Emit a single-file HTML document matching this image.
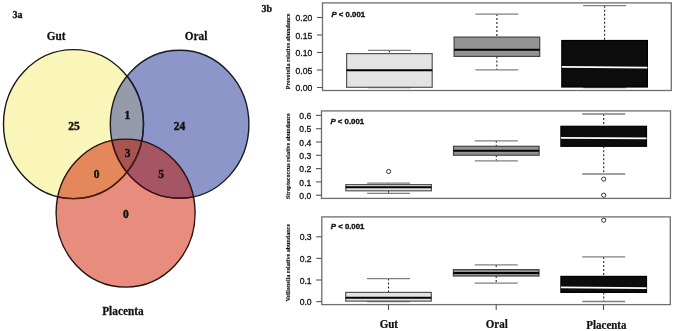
<!DOCTYPE html>
<html><head><meta charset="utf-8"><style>
html,body{margin:0;padding:0;background:#fff;width:675px;height:331px;overflow:hidden}
svg{display:block;will-change:transform}
.tk{font-family:"Liberation Sans",sans-serif;font-size:8.6px;fill:#111;stroke:#111;stroke-width:0.3px}
.pv{font-family:"Liberation Sans",sans-serif;font-size:8px;font-weight:bold;fill:#111;stroke:#111;stroke-width:0.35px}
.yl{font-family:"Liberation Serif",serif;font-size:6.3px;font-weight:bold;fill:#111;stroke:#111;stroke-width:0.15px}
.xl{font-family:"Liberation Serif",serif;font-size:13px;font-weight:bold;fill:#111;stroke:#111;stroke-width:0.25px}
.vl{font-family:"Liberation Serif",serif;font-size:12.6px;font-weight:bold;fill:#111;stroke:#111;stroke-width:0.25px}
.vn{font-family:"Liberation Serif",serif;font-size:11.5px;font-weight:bold;fill:#111;stroke:#111;stroke-width:0.4px}
.pl{font-family:"Liberation Serif",serif;font-size:10px;font-weight:bold;fill:#111;stroke:#111;stroke-width:0.3px}
</style></head><body>
<svg width="675" height="331" viewBox="0 0 675 331">

<defs>
 <clipPath id="cG"><ellipse cx="73.5" cy="124.1" rx="70.0" ry="74.5" /></clipPath>
 <clipPath id="cO"><ellipse cx="179.6" cy="124.3" rx="69.3" ry="74.0" /></clipPath>
 <clipPath id="cP"><ellipse cx="125.6" cy="213.1" rx="69.5" ry="74.0" /></clipPath>
</defs>
<ellipse cx="73.5" cy="124.1" rx="70.0" ry="74.5" fill="#faf5b9"/>
<ellipse cx="179.6" cy="124.3" rx="69.3" ry="74.0" fill="#8c96c8"/>
<ellipse cx="125.6" cy="213.1" rx="69.5" ry="74.0" fill="#e88c7d"/>
<g clip-path="url(#cG)"><ellipse cx="179.6" cy="124.3" rx="69.3" ry="74.0" fill="#969bab"/><ellipse cx="125.6" cy="213.1" rx="69.5" ry="74.0" fill="#e4875a"/></g>
<g clip-path="url(#cO)"><ellipse cx="125.6" cy="213.1" rx="69.5" ry="74.0" fill="#a55564"/></g>
<g clip-path="url(#cG)"><g clip-path="url(#cO)"><ellipse cx="125.6" cy="213.1" rx="69.5" ry="74.0" fill="#a85450"/></g></g>
<ellipse cx="73.5" cy="124.1" rx="70.0" ry="74.5" fill="none" stroke="#1a1a1a" stroke-width="1.4"/>
<g clip-path="url(#cO)"><ellipse cx="73.5" cy="124.1" rx="70.0" ry="74.5" fill="none" stroke="#1c1c3c" stroke-width="1.4"/></g>
<g clip-path="url(#cP)"><ellipse cx="73.5" cy="124.1" rx="70.0" ry="74.5" fill="none" stroke="#551a10" stroke-width="1.4"/></g>
<ellipse cx="179.6" cy="124.3" rx="69.3" ry="74.0" fill="none" stroke="#1a1a22" stroke-width="1.4"/>
<g clip-path="url(#cP)"><ellipse cx="179.6" cy="124.3" rx="69.3" ry="74.0" fill="none" stroke="#4a1018" stroke-width="1.4"/></g>
<ellipse cx="125.6" cy="213.1" rx="69.5" ry="74.0" fill="none" stroke="#241010" stroke-width="1.4"/>
<text transform="translate(56.1,40.3) scale(0.896,1)" class="vl" text-anchor="middle">Gut</text>
<text transform="translate(196,39.9) scale(0.896,1)" class="vl" text-anchor="middle">Oral</text>
<text transform="translate(122.9,314.8) scale(0.896,1)" class="vl" text-anchor="middle">Placenta</text>
<text transform="translate(73.9,129.7) scale(1.0,1)" class="vn" text-anchor="middle">25</text>
<text transform="translate(179.5,130.0) scale(1.0,1)" class="vn" text-anchor="middle">24</text>
<text transform="translate(127.4,118.7) scale(1.0,1)" class="vn" text-anchor="middle">1</text>
<text transform="translate(127.6,156.7) scale(1.0,1)" class="vn" text-anchor="middle">3</text>
<text transform="translate(96.5,177.7) scale(1.0,1)" class="vn" text-anchor="middle">0</text>
<text transform="translate(161,178.0) scale(1.0,1)" class="vn" text-anchor="middle">5</text>
<text transform="translate(125.9,217.7) scale(1.0,1)" class="vn" text-anchor="middle">0</text>
<text transform="translate(12.6,17.6) scale(1.0,1)" class="pl" text-anchor="start">3a</text>
<text transform="translate(261.6,11.9) scale(1.0,1)" class="pl" text-anchor="start">3b</text>
<line x1="389.4" y1="50.3" x2="389.4" y2="53.6" stroke="#222" stroke-width="1.1" stroke-dasharray="2 2"/>
<line x1="389.4" y1="87.3" x2="389.4" y2="87.5" stroke="#222" stroke-width="1.1" stroke-dasharray="2 2"/>
<line x1="367.9" y1="50.3" x2="410.9" y2="50.3" stroke="#808080" stroke-width="1.3"/>
<line x1="367.9" y1="87.5" x2="410.9" y2="87.5" stroke="#808080" stroke-width="1.3"/>
<rect x="346.59999999999997" y="53.6" width="85.6" height="33.70" fill="#e3e3e3" stroke="#555" stroke-width="1.2"/>
<line x1="346.59999999999997" y1="70.2" x2="432.2" y2="70.2" stroke="#000" stroke-width="2"/>
<line x1="496.9" y1="14.1" x2="496.9" y2="37.1" stroke="#222" stroke-width="1.1" stroke-dasharray="2 2"/>
<line x1="496.9" y1="56.4" x2="496.9" y2="69.9" stroke="#222" stroke-width="1.1" stroke-dasharray="2 2"/>
<line x1="475.4" y1="14.1" x2="518.4" y2="14.1" stroke="#808080" stroke-width="1.3"/>
<line x1="475.4" y1="69.9" x2="518.4" y2="69.9" stroke="#808080" stroke-width="1.3"/>
<rect x="454.09999999999997" y="37.1" width="85.6" height="19.30" fill="#949494" stroke="#444" stroke-width="1.2"/>
<line x1="454.09999999999997" y1="49.8" x2="539.6999999999999" y2="49.8" stroke="#000" stroke-width="2"/>
<line x1="604.6" y1="5.7" x2="604.6" y2="40.5" stroke="#222" stroke-width="1.1" stroke-dasharray="2 2"/>
<line x1="604.6" y1="87.0" x2="604.6" y2="87.6" stroke="#222" stroke-width="1.1" stroke-dasharray="2 2"/>
<line x1="583.1" y1="5.7" x2="626.1" y2="5.7" stroke="#808080" stroke-width="1.3"/>
<line x1="583.1" y1="87.6" x2="626.1" y2="87.6" stroke="#808080" stroke-width="1.3"/>
<rect x="561.8000000000001" y="40.5" width="85.6" height="46.50" fill="#0c0c0c" stroke="#000" stroke-width="1.2"/>
<line x1="561.8000000000001" y1="66.9" x2="647.4" y2="67.7" stroke="#fff" stroke-width="1.7"/>
<rect x="322.5" y="2.9" width="348.80" height="87.60" fill="none" stroke="#6e6e6e" stroke-width="1.3"/>
<line x1="317.0" y1="87.5" x2="322.5" y2="87.5" stroke="#555" stroke-width="1.1"/>
<text transform="translate(312.3,91.1) scale(1.0,1)" class="tk" text-anchor="end">0.00</text>
<line x1="317.0" y1="70" x2="322.5" y2="70" stroke="#555" stroke-width="1.1"/>
<text transform="translate(312.3,73.6) scale(1.0,1)" class="tk" text-anchor="end">0.05</text>
<line x1="317.0" y1="52.5" x2="322.5" y2="52.5" stroke="#555" stroke-width="1.1"/>
<text transform="translate(312.3,56.1) scale(1.0,1)" class="tk" text-anchor="end">0.10</text>
<line x1="317.0" y1="35" x2="322.5" y2="35" stroke="#555" stroke-width="1.1"/>
<text transform="translate(312.3,38.6) scale(1.0,1)" class="tk" text-anchor="end">0.15</text>
<line x1="317.0" y1="17.5" x2="322.5" y2="17.5" stroke="#555" stroke-width="1.1"/>
<text transform="translate(312.3,21.1) scale(1.0,1)" class="tk" text-anchor="end">0.20</text>
<text transform="translate(331.5,17.2) scale(0.975,1)" class="pv" text-anchor="start"><tspan font-style="italic">P</tspan> &lt; 0.001</text>
<text transform="translate(289.6,51.4) rotate(-90)" class="yl" text-anchor="middle" textLength="75.6" lengthAdjust="spacingAndGlyphs">Prevotella relative abundance</text>
<line x1="388.6" y1="183.2" x2="388.6" y2="184.6" stroke="#222" stroke-width="1.1" stroke-dasharray="2 2"/>
<line x1="388.6" y1="190.8" x2="388.6" y2="193.4" stroke="#222" stroke-width="1.1" stroke-dasharray="2 2"/>
<line x1="367.1" y1="183.2" x2="410.1" y2="183.2" stroke="#808080" stroke-width="1.3"/>
<line x1="367.1" y1="193.4" x2="410.1" y2="193.4" stroke="#808080" stroke-width="1.3"/>
<rect x="345.8" y="184.6" width="85.6" height="6.20" fill="#e3e3e3" stroke="#555" stroke-width="1.2"/>
<line x1="345.8" y1="187.2" x2="431.40000000000003" y2="187.2" stroke="#000" stroke-width="2"/>
<circle cx="388.6" cy="171.5" r="2.1" fill="none" stroke="#333" stroke-width="1"/>
<line x1="496.3" y1="140.8" x2="496.3" y2="146.3" stroke="#222" stroke-width="1.1" stroke-dasharray="2 2"/>
<line x1="496.3" y1="155.2" x2="496.3" y2="160.8" stroke="#222" stroke-width="1.1" stroke-dasharray="2 2"/>
<line x1="474.8" y1="140.8" x2="517.8" y2="140.8" stroke="#808080" stroke-width="1.3"/>
<line x1="474.8" y1="160.8" x2="517.8" y2="160.8" stroke="#808080" stroke-width="1.3"/>
<rect x="453.5" y="146.3" width="85.6" height="8.90" fill="#949494" stroke="#444" stroke-width="1.2"/>
<line x1="453.5" y1="150.7" x2="539.1" y2="150.7" stroke="#000" stroke-width="2"/>
<line x1="603.7" y1="114.0" x2="603.7" y2="126.3" stroke="#222" stroke-width="1.1" stroke-dasharray="2 2"/>
<line x1="603.7" y1="146.3" x2="603.7" y2="174.0" stroke="#222" stroke-width="1.1" stroke-dasharray="2 2"/>
<line x1="582.2" y1="114.0" x2="625.2" y2="114.0" stroke="#808080" stroke-width="1.3"/>
<line x1="582.2" y1="174.0" x2="625.2" y2="174.0" stroke="#808080" stroke-width="1.3"/>
<rect x="560.9000000000001" y="126.3" width="85.6" height="20.00" fill="#0c0c0c" stroke="#000" stroke-width="1.2"/>
<line x1="560.9000000000001" y1="137.8" x2="646.5" y2="138.4" stroke="#fff" stroke-width="1.7"/>
<circle cx="603.7" cy="179.1" r="2.1" fill="none" stroke="#333" stroke-width="1"/>
<circle cx="603.7" cy="195.2" r="2.1" fill="none" stroke="#333" stroke-width="1"/>
<rect x="321.5" y="110.9" width="349.00" height="87.50" fill="none" stroke="#6e6e6e" stroke-width="1.3"/>
<line x1="316.0" y1="195.2" x2="321.5" y2="195.2" stroke="#555" stroke-width="1.1"/>
<text transform="translate(311.3,198.79999999999998) scale(1.0,1)" class="tk" text-anchor="end">0.0</text>
<line x1="316.0" y1="181.9" x2="321.5" y2="181.9" stroke="#555" stroke-width="1.1"/>
<text transform="translate(311.3,185.5) scale(1.0,1)" class="tk" text-anchor="end">0.1</text>
<line x1="316.0" y1="168.6" x2="321.5" y2="168.6" stroke="#555" stroke-width="1.1"/>
<text transform="translate(311.3,172.2) scale(1.0,1)" class="tk" text-anchor="end">0.2</text>
<line x1="316.0" y1="155.3" x2="321.5" y2="155.3" stroke="#555" stroke-width="1.1"/>
<text transform="translate(311.3,158.9) scale(1.0,1)" class="tk" text-anchor="end">0.3</text>
<line x1="316.0" y1="142.0" x2="321.5" y2="142.0" stroke="#555" stroke-width="1.1"/>
<text transform="translate(311.3,145.6) scale(1.0,1)" class="tk" text-anchor="end">0.4</text>
<line x1="316.0" y1="128.7" x2="321.5" y2="128.7" stroke="#555" stroke-width="1.1"/>
<text transform="translate(311.3,132.29999999999998) scale(1.0,1)" class="tk" text-anchor="end">0.5</text>
<line x1="316.0" y1="115.4" x2="321.5" y2="115.4" stroke="#555" stroke-width="1.1"/>
<text transform="translate(311.3,119.0) scale(1.0,1)" class="tk" text-anchor="end">0.6</text>
<text transform="translate(330.5,124.2) scale(0.975,1)" class="pv" text-anchor="start"><tspan font-style="italic">P</tspan> &lt; 0.001</text>
<text transform="translate(289.6,156.15) rotate(-90)" class="yl" text-anchor="middle" textLength="85.7" lengthAdjust="spacingAndGlyphs">Streptococcus relative abundance</text>
<line x1="388.5" y1="278.6" x2="388.5" y2="292.4" stroke="#222" stroke-width="1.1" stroke-dasharray="2 2"/>
<line x1="388.5" y1="301.1" x2="388.5" y2="301.6" stroke="#222" stroke-width="1.1" stroke-dasharray="2 2"/>
<line x1="367.0" y1="278.6" x2="410.0" y2="278.6" stroke="#808080" stroke-width="1.3"/>
<line x1="367.0" y1="301.6" x2="410.0" y2="301.6" stroke="#808080" stroke-width="1.3"/>
<rect x="345.7" y="292.4" width="85.6" height="8.70" fill="#e3e3e3" stroke="#555" stroke-width="1.2"/>
<line x1="345.7" y1="297.7" x2="431.3" y2="297.7" stroke="#000" stroke-width="2"/>
<line x1="496.2" y1="264.9" x2="496.2" y2="269.6" stroke="#222" stroke-width="1.1" stroke-dasharray="2 2"/>
<line x1="496.2" y1="276.0" x2="496.2" y2="283.1" stroke="#222" stroke-width="1.1" stroke-dasharray="2 2"/>
<line x1="474.7" y1="264.9" x2="517.7" y2="264.9" stroke="#808080" stroke-width="1.3"/>
<line x1="474.7" y1="283.1" x2="517.7" y2="283.1" stroke="#808080" stroke-width="1.3"/>
<rect x="453.4" y="269.6" width="85.6" height="6.40" fill="#949494" stroke="#444" stroke-width="1.2"/>
<line x1="453.4" y1="272.9" x2="539.0" y2="272.9" stroke="#000" stroke-width="2"/>
<line x1="603.7" y1="256.9" x2="603.7" y2="276.4" stroke="#222" stroke-width="1.1" stroke-dasharray="2 2"/>
<line x1="603.7" y1="292.4" x2="603.7" y2="301.5" stroke="#222" stroke-width="1.1" stroke-dasharray="2 2"/>
<line x1="582.2" y1="256.9" x2="625.2" y2="256.9" stroke="#808080" stroke-width="1.3"/>
<line x1="582.2" y1="301.5" x2="625.2" y2="301.5" stroke="#808080" stroke-width="1.3"/>
<rect x="560.9000000000001" y="276.4" width="85.6" height="16.00" fill="#0c0c0c" stroke="#000" stroke-width="1.2"/>
<line x1="560.9000000000001" y1="287.4" x2="646.5" y2="288.2" stroke="#fff" stroke-width="1.7"/>
<circle cx="603.7" cy="220.2" r="2.1" fill="none" stroke="#333" stroke-width="1"/>
<rect x="321.8" y="216.9" width="348.50" height="87.70" fill="none" stroke="#6e6e6e" stroke-width="1.3"/>
<line x1="316.3" y1="301.6" x2="321.8" y2="301.6" stroke="#555" stroke-width="1.1"/>
<text transform="translate(311.6,305.20000000000005) scale(1.0,1)" class="tk" text-anchor="end">0.0</text>
<line x1="316.3" y1="280.0" x2="321.8" y2="280.0" stroke="#555" stroke-width="1.1"/>
<text transform="translate(311.6,283.6) scale(1.0,1)" class="tk" text-anchor="end">0.1</text>
<line x1="316.3" y1="258.4" x2="321.8" y2="258.4" stroke="#555" stroke-width="1.1"/>
<text transform="translate(311.6,262.0) scale(1.0,1)" class="tk" text-anchor="end">0.2</text>
<line x1="316.3" y1="236.8" x2="321.8" y2="236.8" stroke="#555" stroke-width="1.1"/>
<text transform="translate(311.6,240.4) scale(1.0,1)" class="tk" text-anchor="end">0.3</text>
<text transform="translate(330.8,229.2) scale(0.975,1)" class="pv" text-anchor="start"><tspan font-style="italic">P</tspan> &lt; 0.001</text>
<text transform="translate(289.6,262.85) rotate(-90)" class="yl" text-anchor="middle" textLength="77.5" lengthAdjust="spacingAndGlyphs">Veillonella relative abundance</text>
<line x1="388.5" y1="304.6" x2="388.5" y2="310" stroke="#555" stroke-width="1.1"/>
<line x1="496.2" y1="304.6" x2="496.2" y2="310" stroke="#555" stroke-width="1.1"/>
<line x1="603.5" y1="304.6" x2="603.5" y2="310" stroke="#555" stroke-width="1.1"/>
<text transform="translate(388.8,328.2) scale(0.845,1)" class="xl" text-anchor="middle">Gut</text>
<text transform="translate(496.8,328.2) scale(0.845,1)" class="xl" text-anchor="middle">Oral</text>
<text transform="translate(606.4,328.7) scale(0.845,1)" class="xl" text-anchor="middle">Placenta</text>
</svg>
</body></html>
